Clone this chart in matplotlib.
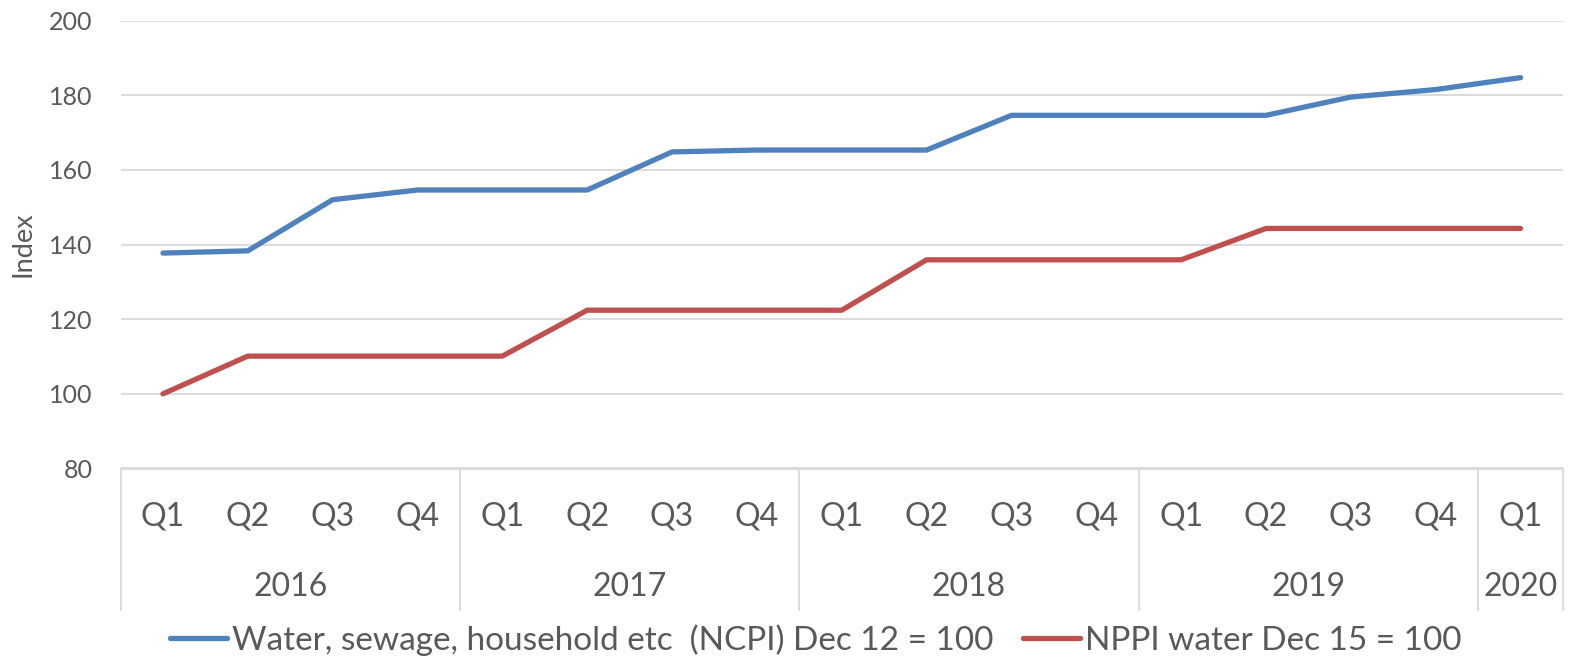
import matplotlib
matplotlib.use("Agg")
import matplotlib.pyplot as plt
from matplotlib.lines import Line2D
import matplotlib.transforms as mtransforms

plt.rcParams['font.family'] = ['Lato', 'DejaVu Sans']

quarters = ["Q1", "Q2", "Q3", "Q4", "Q1", "Q2", "Q3", "Q4", "Q1", "Q2", "Q3", "Q4",
            "Q1", "Q2", "Q3", "Q4", "Q1"]
years = ["2016", "2017", "2018", "2019", "2020"]
year_counts = [4, 4, 4, 4, 1]
ncpi = [137.7, 138.3, 152.0, 154.6, 154.6, 154.6, 164.8, 165.3, 165.3, 165.3, 174.6, 174.6,
        174.6, 174.6, 179.5, 181.5, 184.7]
nppi = [100.0, 110.1, 110.1, 110.1, 110.1, 122.4, 122.4, 122.4, 122.4, 135.9, 135.9, 135.9,
        135.9, 144.3, 144.3, 144.3, 144.3]
series_names = ["Water, sewage, household etc  (NCPI) Dec 12 = 100", "NPPI water Dec 15 = 100"]
yticks = [80, 100, 120, 140, 160, 180, 200]

W, H = 1569, 661
fig = plt.figure(figsize=(W / 100, H / 100), dpi=100)
left, right, top, bottom = 120.5, 1563, 20.5, 468.5
ax = fig.add_axes([left / W, 1 - bottom / H, (right - left) / W, (bottom - top) / H])

gray = "#595959"
grid = "#D9D9D9"
blue = "#4F81BD"
red = "#C0504D"

x = list(range(len(quarters)))
ax.plot(x, ncpi, color=blue, lw=3.8, solid_capstyle="round", solid_joinstyle="round", zorder=3)
ax.plot(x, nppi, color=red, lw=3.8, solid_capstyle="round", solid_joinstyle="round", zorder=3)

ax.set_xlim(-0.5, len(quarters) - 0.5)
ax.set_ylim(80, 200)
ax.set_yticks(yticks)
ax.set_yticklabels([str(v) for v in yticks], fontsize=18, color=gray)
ax.tick_params(axis="y", length=0, pad=20)
ax.set_xticks([])
ax.grid(axis="y", color=grid, lw=1.3)
for s in ["top", "right", "left"]:
    ax.spines[s].set_visible(False)
ax.spines["bottom"].set_color(grid)
ax.spines["bottom"].set_linewidth(1.3)
ax.set_axisbelow(True)
ax.set_ylabel("Index", fontsize=19.5, color=gray, labelpad=10)

# category axis
trans = mtransforms.blended_transform_factory(ax.transData, ax.transAxes)
ph = bottom - top
def ay(py):
    return (bottom - py) / ph

q_y = ay(517)
y_y = ay(587)
sep_bot = ay(610)
for i, q in enumerate(quarters):
    ax.text(i, q_y, q, transform=trans, ha="center", va="center", fontsize=23, color=gray)

start = 0
bounds = [-0.5]
for yr, c in zip(years, year_counts):
    center = start + (c - 1) / 2
    ax.text(center, y_y, yr, transform=trans, ha="center", va="center", fontsize=23, color=gray)
    start += c
    bounds.append(start - 0.5)
for b in bounds:
    ax.plot([b, b], [0, sep_bot], transform=trans, color=grid, lw=1.3, clip_on=False)

handles = [Line2D([0], [0], color=blue, lw=3.8, solid_capstyle="round"),
           Line2D([0], [0], color=red, lw=3.8, solid_capstyle="round")]
leg = fig.legend(handles, series_names, loc="center", bbox_to_anchor=(816 / W, 1 - 640 / H),
                 ncol=2, frameon=False, fontsize=24, handlelength=1.7, handletextpad=0.15,
                 columnspacing=0.9, labelcolor=gray)

fig.savefig("out.png", dpi=100, facecolor="white")
